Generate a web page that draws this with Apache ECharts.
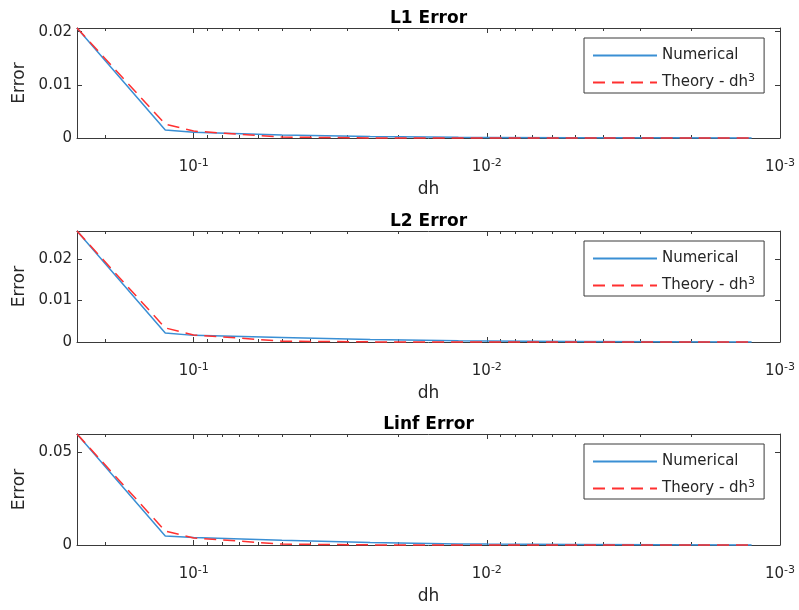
<!DOCTYPE html>
<html>
<head>
<meta charset="utf-8">
<script src="https://cdn.jsdelivr.net/npm/echarts@6/dist/echarts.min.js"></script>
<style>
  html, body { margin: 0; padding: 0; background: #fff; }
  #chart { width: 799px; height: 610px; }
</style>
</head>
<body>
<div id="chart"></div>
<script>
// grid spacing used for each run
const dh = [0.25, 0.125, 0.1, 0.05, 0.025, 0.0125, 0.01, 0.005, 0.0025, 0.00125];

// errors
const l1Numerical = [0.0207, 0.0015, 0.0011, 0.00055, 0.00028, 0.00014, 0.00011, 0.000055, 0.000028, 0.000014];
const l1Theory = [0.0207, 0.0026, 0.0013, 0.00017, 0.00002, 0.000003, 0.0000013, 0.0000002, 0, 0];
const l2Numerical = [0.0268, 0.0022, 0.0016, 0.0011, 0.0006, 0.0003, 0.00025, 0.00012, 0.00006, 0.00003];
const l2Theory = [0.0268, 0.0034, 0.0017, 0.00021, 0.000027, 0.0000034, 0.0000017, 0.0000002, 0, 0];
const linfNumerical = [0.0597, 0.0048, 0.0041, 0.0025, 0.0013, 0.0006, 0.0005, 0.00025, 0.00012, 0.00006];
const linfTheory = [0.0597, 0.0075, 0.0038, 0.00048, 0.00006, 0.0000075, 0.0000038, 0.0000005, 0, 0];

const titles = ['L1 Error', 'L2 Error', 'Linf Error'];
const yMax = [0.0207, 0.0268, 0.0597];
const yTicks = [[0, 0.01, 0.02], [0, 0.01, 0.02], [0, 0.05]];
const xMin = 0.001;
const xMax = 0.25;
const xMajorTicks = [0.1, 0.01, 0.001];
const xMinorTicks = [0.2, 0.09, 0.08, 0.07, 0.06, 0.05, 0.04, 0.03, 0.02,
  0.009, 0.008, 0.007, 0.006, 0.005, 0.004, 0.003, 0.002];

const numericalData = [l1Numerical, l2Numerical, linfNumerical];
const theoryData = [l1Theory, l2Theory, linfTheory];

const FONT = 'DejaVu Sans';
const INK = '#262626';
const AXIS = '#3a3a3a';
const gridTops = [28, 231, 434];
const gridHeights = [110, 111, 111];
const theoryName = 'Theory - dh^3';

const myChart = echarts.init(document.getElementById('chart'));

const grid = gridTops.map((t, i) => ({
  left: 77,
  right: 19,
  top: t,
  height: gridHeights[i],
}));

function logAxis(i, position, ticks, len, extra) {
  return Object.assign({
    gridIndex: i,
    type: 'log',
    logBase: 10,
    inverse: true,
    min: xMin,
    max: xMax,
    position: position,
    axisLine: { show: false },
    axisTick: {
      show: true,
      inside: true,
      length: len,
      customValues: ticks,
      lineStyle: { color: AXIS, width: 1 },
    },
    axisLabel: { show: false },
    splitLine: { show: false },
  }, extra);
}

const xAxis = [];
titles.forEach((title, i) => {
  // bottom, major ticks + labels
  xAxis.push(logAxis(i, 'bottom', xMajorTicks, 5, {
    axisLine: { show: true, lineStyle: { color: AXIS, width: 1 } },
    axisLabel: {
      show: true,
      customValues: xMajorTicks,
      margin: 20,
      formatter: (v) => '{b|10}{s|' + Math.round(Math.log10(v)) + '}',
      rich: {
        b: { fontFamily: FONT, fontSize: 15, color: INK },
        s: { fontFamily: FONT, fontSize: 11, color: INK, padding: [0, 0, 8, 0] },
      },
    },
    name: 'dh',
    nameLocation: 'middle',
    nameGap: 43,
    nameTextStyle: { fontFamily: FONT, fontSize: 17, color: INK },
  }));
  // bottom, minor ticks
  xAxis.push(logAxis(i, 'bottom', xMinorTicks, 3, {}));
  // top, major ticks + title
  xAxis.push(logAxis(i, 'top', xMajorTicks, 5, {
    axisLine: { show: true, lineStyle: { color: AXIS, width: 1 } },
    name: title,
    nameLocation: 'middle',
    nameGap: 1,
    nameTextStyle: { fontFamily: FONT, fontSize: 17, fontWeight: 'bold', color: '#000' },
  }));
  // top, minor ticks
  xAxis.push(logAxis(i, 'top', xMinorTicks, 3, {}));
});

const yAxis = [];
titles.forEach((title, i) => {
  const base = {
    gridIndex: i,
    type: 'value',
    min: 0,
    max: yMax[i],
    axisLine: { show: true, lineStyle: { color: AXIS, width: 1 } },
    axisTick: {
      show: true,
      inside: true,
      length: 5,
      customValues: yTicks[i],
      lineStyle: { color: AXIS, width: 1 },
    },
    splitLine: { show: false },
  };
  yAxis.push(Object.assign({}, base, {
    position: 'left',
    axisLabel: {
      customValues: yTicks[i],
      margin: 5,
      fontFamily: FONT,
      fontSize: 15,
      color: INK,
      formatter: (v) => (v === 0 ? '0' : v.toFixed(2)),
    },
    name: 'Error',
    nameLocation: 'middle',
    nameGap: 49,
    nameTextStyle: { fontFamily: FONT, fontSize: 17, color: INK },
  }));
  yAxis.push(Object.assign({}, base, {
    position: 'right',
    axisLabel: { show: false },
  }));
});

const series = [];
titles.forEach((title, i) => {
  series.push({
    name: 'Numerical',
    type: 'line',
    xAxisIndex: i * 4,
    yAxisIndex: i * 2,
    symbol: 'none',
    clip: false,
    lineStyle: { color: '#3a8fd4', width: 1.5 },
    itemStyle: { color: '#3a8fd4' },
    data: dh.map((x, k) => [x, numericalData[i][k]]),
  });
  series.push({
    name: theoryName,
    type: 'line',
    xAxisIndex: i * 4,
    yAxisIndex: i * 2,
    symbol: 'none',
    clip: false,
    lineStyle: { color: '#ff3030', width: 1.5, type: [12, 7] },
    itemStyle: { color: '#ff3030' },
    data: dh.map((x, k) => [x, theoryData[i][k]]),
  });
});

const legend = gridTops.map((t) => ({
  orient: 'vertical',
  left: 584,
  top: t + 10,
  itemWidth: 64,
  itemHeight: 14,
  itemGap: 10,
  padding: [10, 9, 3, 8],
  borderColor: AXIS,
  borderWidth: 1,
  backgroundColor: '#fff',
  selectedMode: false,
  // hide the marker dot that ECharts puts on line icons
  itemStyle: { opacity: 0 },
  data: ['Numerical', theoryName],
  formatter: (name) => (name === theoryName ? '{t|Theory - dh}{s|3}' : '{t|' + name + '}'),
  textStyle: {
    fontFamily: FONT,
    fontSize: 15,
    color: INK,
    rich: {
      t: { fontFamily: FONT, fontSize: 15, color: INK },
      s: { fontFamily: FONT, fontSize: 11, color: INK, padding: [0, 0, 8, 0] },
    },
  },
}));

const option = {
  backgroundColor: '#fff',
  animation: false,
  grid,
  legend,
  xAxis,
  yAxis,
  series,
};

myChart.setOption(option);
</script>
</body>
</html>
